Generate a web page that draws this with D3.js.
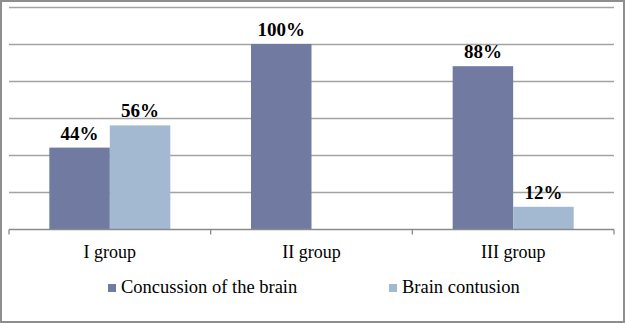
<!DOCTYPE html>
<html>
<head>
<meta charset="utf-8">
<script src="https://cdn.jsdelivr.net/npm/d3@7"></script>
<style>
  body { margin: 0; background: #fff; }
  text { font-family: "Liberation Serif", "DejaVu Serif", serif; }
</style>
</head>
<body>
<svg width="625" height="323"></svg>
<script>
const groups = ["I group", "II group", "III group"]
const series = ["Concussion of the brain", "Brain contusion"]
const concussion = [44, 100, 88]
const contusion = [56, 0, 12]
const yTicks = [0, 20, 40, 60, 80, 100, 120]

const colors = ["#717BA2", "#A2B9D1"]
const values = [concussion, contusion]

const svg = d3.select("svg")

const margin = {left: 9, right: 11, top: 7, bottom: 94}
const width = 625, height = 323

const x0 = d3.scaleBand()
    .domain(groups)
    .range([margin.left, width - margin.right])
    .padding(0)

const x1 = d3.scaleBand()
    .domain(series)
    .range([x0.bandwidth() * 0.2, x0.bandwidth() * 0.8])
    .padding(0)

const y = d3.scaleLinear()
    .domain([0, 120])
    .range([height - margin.bottom, margin.top])

// outer frame
svg.append("rect")
    .attr("x", 1)
    .attr("y", 1)
    .attr("width", width - 2)
    .attr("height", height - 2)
    .style("fill", "#fff")
    .style("stroke", "#8e8e8e")
    .style("stroke-width", 2)

// gridlines
svg.append("g")
    .attr("id", "gridG")
    .selectAll("line.grid")
    .data(yTicks.slice(1))
    .enter()
    .append("line")
    .attr("class", "grid")
    .attr("x1", margin.left)
    .attr("x2", width - margin.right)
    .attr("y1", d => Math.round(y(d)) + 0.5)
    .attr("y2", d => Math.round(y(d)) + 0.5)
    .style("stroke", "#a3a3a3")
    .style("stroke-width", 1.3)

// bars
const data = []
groups.forEach((g, i) => {
    series.forEach((s, j) => {
        data.push({group: g, series: s, value: values[j][i], color: colors[j]})
    })
})

svg.append("g")
    .attr("id", "barsG")
    .selectAll("rect.bar")
    .data(data.filter(d => d.value > 0))
    .enter()
    .append("rect")
    .attr("class", "bar")
    .attr("x", d => x0(d.group) + x1(d.series))
    .attr("y", d => y(d.value))
    .attr("width", x1.bandwidth())
    .attr("height", d => y(0) - y(d.value))
    .style("fill", d => d.color)

// value labels
svg.append("g")
    .attr("id", "labelsG")
    .selectAll("text.value")
    .data(data.filter(d => d.value > 0))
    .enter()
    .append("text")
    .attr("class", "value")
    .attr("x", d => x0(d.group) + x1(d.series) + x1.bandwidth() / 2)
    .attr("y", d => y(d.value) - 8)
    .style("text-anchor", "middle")
    .style("font-size", "19px")
    .style("font-weight", "bold")
    .style("fill", "#000")
    .text(d => d.value + "%")

// x axis
const xAxis = svg.append("g")
    .attr("transform", `translate(0, ${Math.round(y(0)) + 0.5})`)

xAxis.append("line")
    .attr("x1", margin.left)
    .attr("x2", width - margin.right)
    .style("stroke", "#8a8a8a")
    .style("stroke-width", 1.3)

xAxis.selectAll("line.tick")
    .data(groups.map(g => x0(g)).concat([width - margin.right]))
    .enter()
    .append("line")
    .attr("class", "tick")
    .attr("x1", d => d)
    .attr("x2", d => d)
    .attr("y1", 0)
    .attr("y2", 5)
    .style("stroke", "#8a8a8a")
    .style("stroke-width", 1.3)

xAxis.selectAll("text.cat")
    .data(groups)
    .enter()
    .append("text")
    .attr("class", "cat")
    .attr("x", d => x0(d) + x0.bandwidth() / 2)
    .attr("y", 28)
    .style("text-anchor", "middle")
    .style("font-size", "18px")
    .style("fill", "#000")
    .text(d => d)

// legend
const legendX = [108, 389]
const legend = svg.append("g")
    .attr("id", "legendG")
    .selectAll("g.item")
    .data(series)
    .enter()
    .append("g")
    .attr("class", "item")
    .attr("transform", (d, i) => `translate(${legendX[i]}, 284)`)

legend.append("rect")
    .attr("width", 8)
    .attr("height", 8)
    .style("fill", (d, i) => colors[i])

legend.append("text")
    .attr("x", 13)
    .attr("y", 9)
    .style("font-size", "18.5px")
    .style("fill", "#000")
    .text(d => d)
</script>
</body>
</html>
